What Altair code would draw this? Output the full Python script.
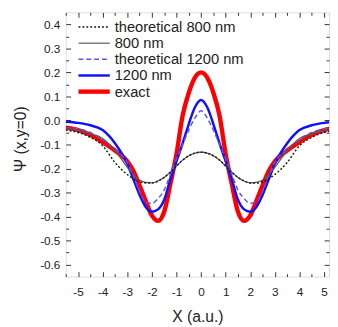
import altair as alt
import pandas as pd

x_vals = [-5.5, -5.0, -4.5, -4.0, -3.5, -3.0, -2.75, -2.5, -2.25, -2.0, -1.75, -1.5, -1.25, -1.0, -0.75, -0.5, -0.25,
          0.0, 0.25, 0.5, 0.75, 1.0, 1.25, 1.5, 1.75, 2.0, 2.25, 2.5, 2.75, 3.0, 3.5, 4.0, 4.5, 5.0, 5.5]

theo800 = [-0.04, -0.05, -0.07, -0.105, -0.175, -0.225, -0.243, -0.255, -0.26, -0.26, -0.252, -0.237, -0.215, -0.19, -0.165, -0.147, -0.136,
           -0.132, -0.136, -0.147, -0.165, -0.19, -0.215, -0.237, -0.252, -0.26, -0.26, -0.255, -0.243, -0.225, -0.175, -0.105, -0.07, -0.05, -0.04]
nm800 = [-0.03, -0.04, -0.055, -0.075, -0.125, -0.195, -0.225, -0.248, -0.258, -0.26, -0.252, -0.237, -0.215, -0.19, -0.165, -0.147, -0.136,
         -0.132, -0.136, -0.147, -0.165, -0.19, -0.215, -0.237, -0.252, -0.26, -0.258, -0.248, -0.225, -0.195, -0.125, -0.075, -0.055, -0.04, -0.03]
theo1200 = [-0.03, -0.035, -0.05, -0.08, -0.12, -0.175, -0.23, -0.295, -0.34, -0.345, -0.325, -0.29, -0.225, -0.16, -0.1, -0.04, 0.01,
            0.04, 0.01, -0.04, -0.1, -0.16, -0.225, -0.29, -0.325, -0.345, -0.34, -0.295, -0.23, -0.175, -0.12, -0.08, -0.05, -0.035, -0.03]
nm1200 = [-0.005, -0.01, -0.02, -0.04, -0.095, -0.18, -0.245, -0.31, -0.36, -0.38, -0.37, -0.33, -0.245, -0.17, -0.095, -0.015, 0.055,
          0.085, 0.055, -0.015, -0.095, -0.17, -0.245, -0.33, -0.37, -0.38, -0.36, -0.31, -0.245, -0.18, -0.095, -0.04, -0.02, -0.01, -0.005]
exact = [-0.03, -0.04, -0.06, -0.09, -0.125, -0.17, -0.21, -0.27, -0.335, -0.395, -0.418, -0.38, -0.265, -0.14, 0.02, 0.115, 0.178,
         0.2, 0.178, 0.115, 0.02, -0.14, -0.265, -0.38, -0.418, -0.395, -0.335, -0.27, -0.21, -0.17, -0.125, -0.09, -0.06, -0.04, -0.03]

series_names = ["theoretical 800 nm", "800 nm", "theoretical 1200 nm", "1200 nm", "exact"]
series_values = [theo800, nm800, theo1200, nm1200, exact]
series_colors = ["#1a1a1a", "#5a5a5a", "#5555ff", "#1010ff", "#ff0000"]
series_dash = [[2, 2], [], [5, 3], [], []]
series_width = [1.5, 1.2, 1.5, 2.5, 4.5]
draw_order = ["exact", "1200 nm", "theoretical 1200 nm", "800 nm", "theoretical 800 nm"]

x_major = list(range(-5, 6))
x_minor = [round(-5.5 + i, 1) for i in range(11)]
y_major = [round(-0.6 + 0.1 * i, 2) for i in range(11)]
y_minor = [round(-0.55 + 0.1 * i, 2) for i in range(10)]

rows = []
for name, vals in zip(series_names, series_values):
    for xv, yv in zip(x_vals, vals):
        rows.append({"series": name, "x": xv, "y": yv})
df = pd.DataFrame(rows)
legend_df = pd.DataFrame({"series": series_names})

FONT = "Arial, Liberation Sans, sans-serif"
TC = "#333333"
TXT = "#222222"
xscale = alt.Scale(domain=[-5.5, 5.2], nice=False, zero=False)
yscale = alt.Scale(domain=[-0.65, 0.45], nice=False, zero=False)
# legend rows: pixel band at the top-left of the plot area
legend_y = alt.Y("series:N", axis=None,
                 scale=alt.Scale(type="point", domain=series_names, range=[15, 81], padding=0))

style = {n: (c, d, w) for n, c, d, w in zip(series_names, series_colors, series_dash, series_width)}


def mark_style(name):
    c, d, w = style[name]
    kw = dict(color=c, strokeWidth=w)
    if d:
        kw["strokeDash"] = d
    return kw


layers = []
for s in draw_order:
    layers.append(
        alt.Chart(df).transform_filter(alt.datum.series == s)
        .mark_line(clip=True, interpolate="monotone", **mark_style(s))
        .encode(x=alt.X("x:Q", scale=xscale, axis=None),
                y=alt.Y("y:Q", scale=yscale, axis=None))
    )

# legend
for s in series_names:
    layers.append(
        alt.Chart(legend_df).transform_filter(alt.datum.series == s)
        .mark_rule(**mark_style(s))
        .encode(x=alt.value(13), x2=alt.value(45), y=legend_y)
    )
layers.append(
    alt.Chart(legend_df).mark_text(align="left", baseline="middle", fontSize=15, font=FONT, color=TXT)
    .encode(x=alt.value(50), y=legend_y, text="series:N")
)

minus_fix_x = "replace(format(datum.value, 'd'), '\u2212', '-')"
minus_fix_y = "replace(format(datum.value, '.1f'), '\u2212', '-')"


def carrier(xaxis, yaxis):
    return alt.Chart(df).mark_point(opacity=0).encode(
        x=alt.X("x:Q", scale=xscale, axis=xaxis),
        y=alt.Y("y:Q", scale=yscale, axis=yaxis),
    )


common = dict(domain=False, grid=False, tickColor=TC, tickWidth=1)

ax_bottom = alt.Axis(orient="bottom", values=x_major, labelExpr=minus_fix_x, tickSize=5, offset=-5,
                     labelPadding=10, labelFontSize=12, labelFont=FONT, labelColor=TXT,
                     title="X (a.u.)", titleFontSize=16, titleFont=FONT, titleFontWeight="normal",
                     titleColor=TXT, titlePadding=12, **common)
ax_left = alt.Axis(orient="left", values=y_major, labelExpr=minus_fix_y, tickSize=5, offset=-5,
                   labelPadding=6, labelFontSize=12, labelFont=FONT, labelColor=TXT,
                   title="Ψ (x,y=0)", titleFontSize=16, titleFont=FONT, titleFontWeight="normal",
                   titleColor=TXT, titlePadding=11, titleY=129, **common)
ax_bottom_minor = alt.Axis(orient="bottom", values=x_minor, labels=False, tickSize=3, offset=-3, title=None, **common)
ax_left_minor = alt.Axis(orient="left", values=y_minor, labels=False, tickSize=3, offset=-3, title=None, **common)
ax_top = alt.Axis(orient="top", values=x_major, labels=False, tickSize=5, offset=-5, title=None, **common)
ax_right = alt.Axis(orient="right", values=y_major, labels=False, tickSize=5, offset=-5, title=None, **common)
ax_top_minor = alt.Axis(orient="top", values=x_minor, labels=False, tickSize=3, offset=-3, title=None, **common)
ax_right_minor = alt.Axis(orient="right", values=y_minor, labels=False, tickSize=3, offset=-3, title=None, **common)

layers += [
    carrier(ax_bottom, ax_left),
    carrier(ax_bottom_minor, ax_left_minor),
    carrier(ax_top, ax_right),
    carrier(ax_top_minor, ax_right_minor),
]

chart = alt.layer(*layers).resolve_scale(y="independent").resolve_axis(
    x="independent", y="independent"
).properties(
    width=269, height=270,
    autosize=alt.AutoSizeParams(type="none"),
    padding={"left": 59, "top": 1, "right": 1, "bottom": 47},
).configure_view(stroke=TC, strokeWidth=1.3).configure(background="white")

chart.save("out.html", embed_options={"renderer": "svg", "actions": False})
